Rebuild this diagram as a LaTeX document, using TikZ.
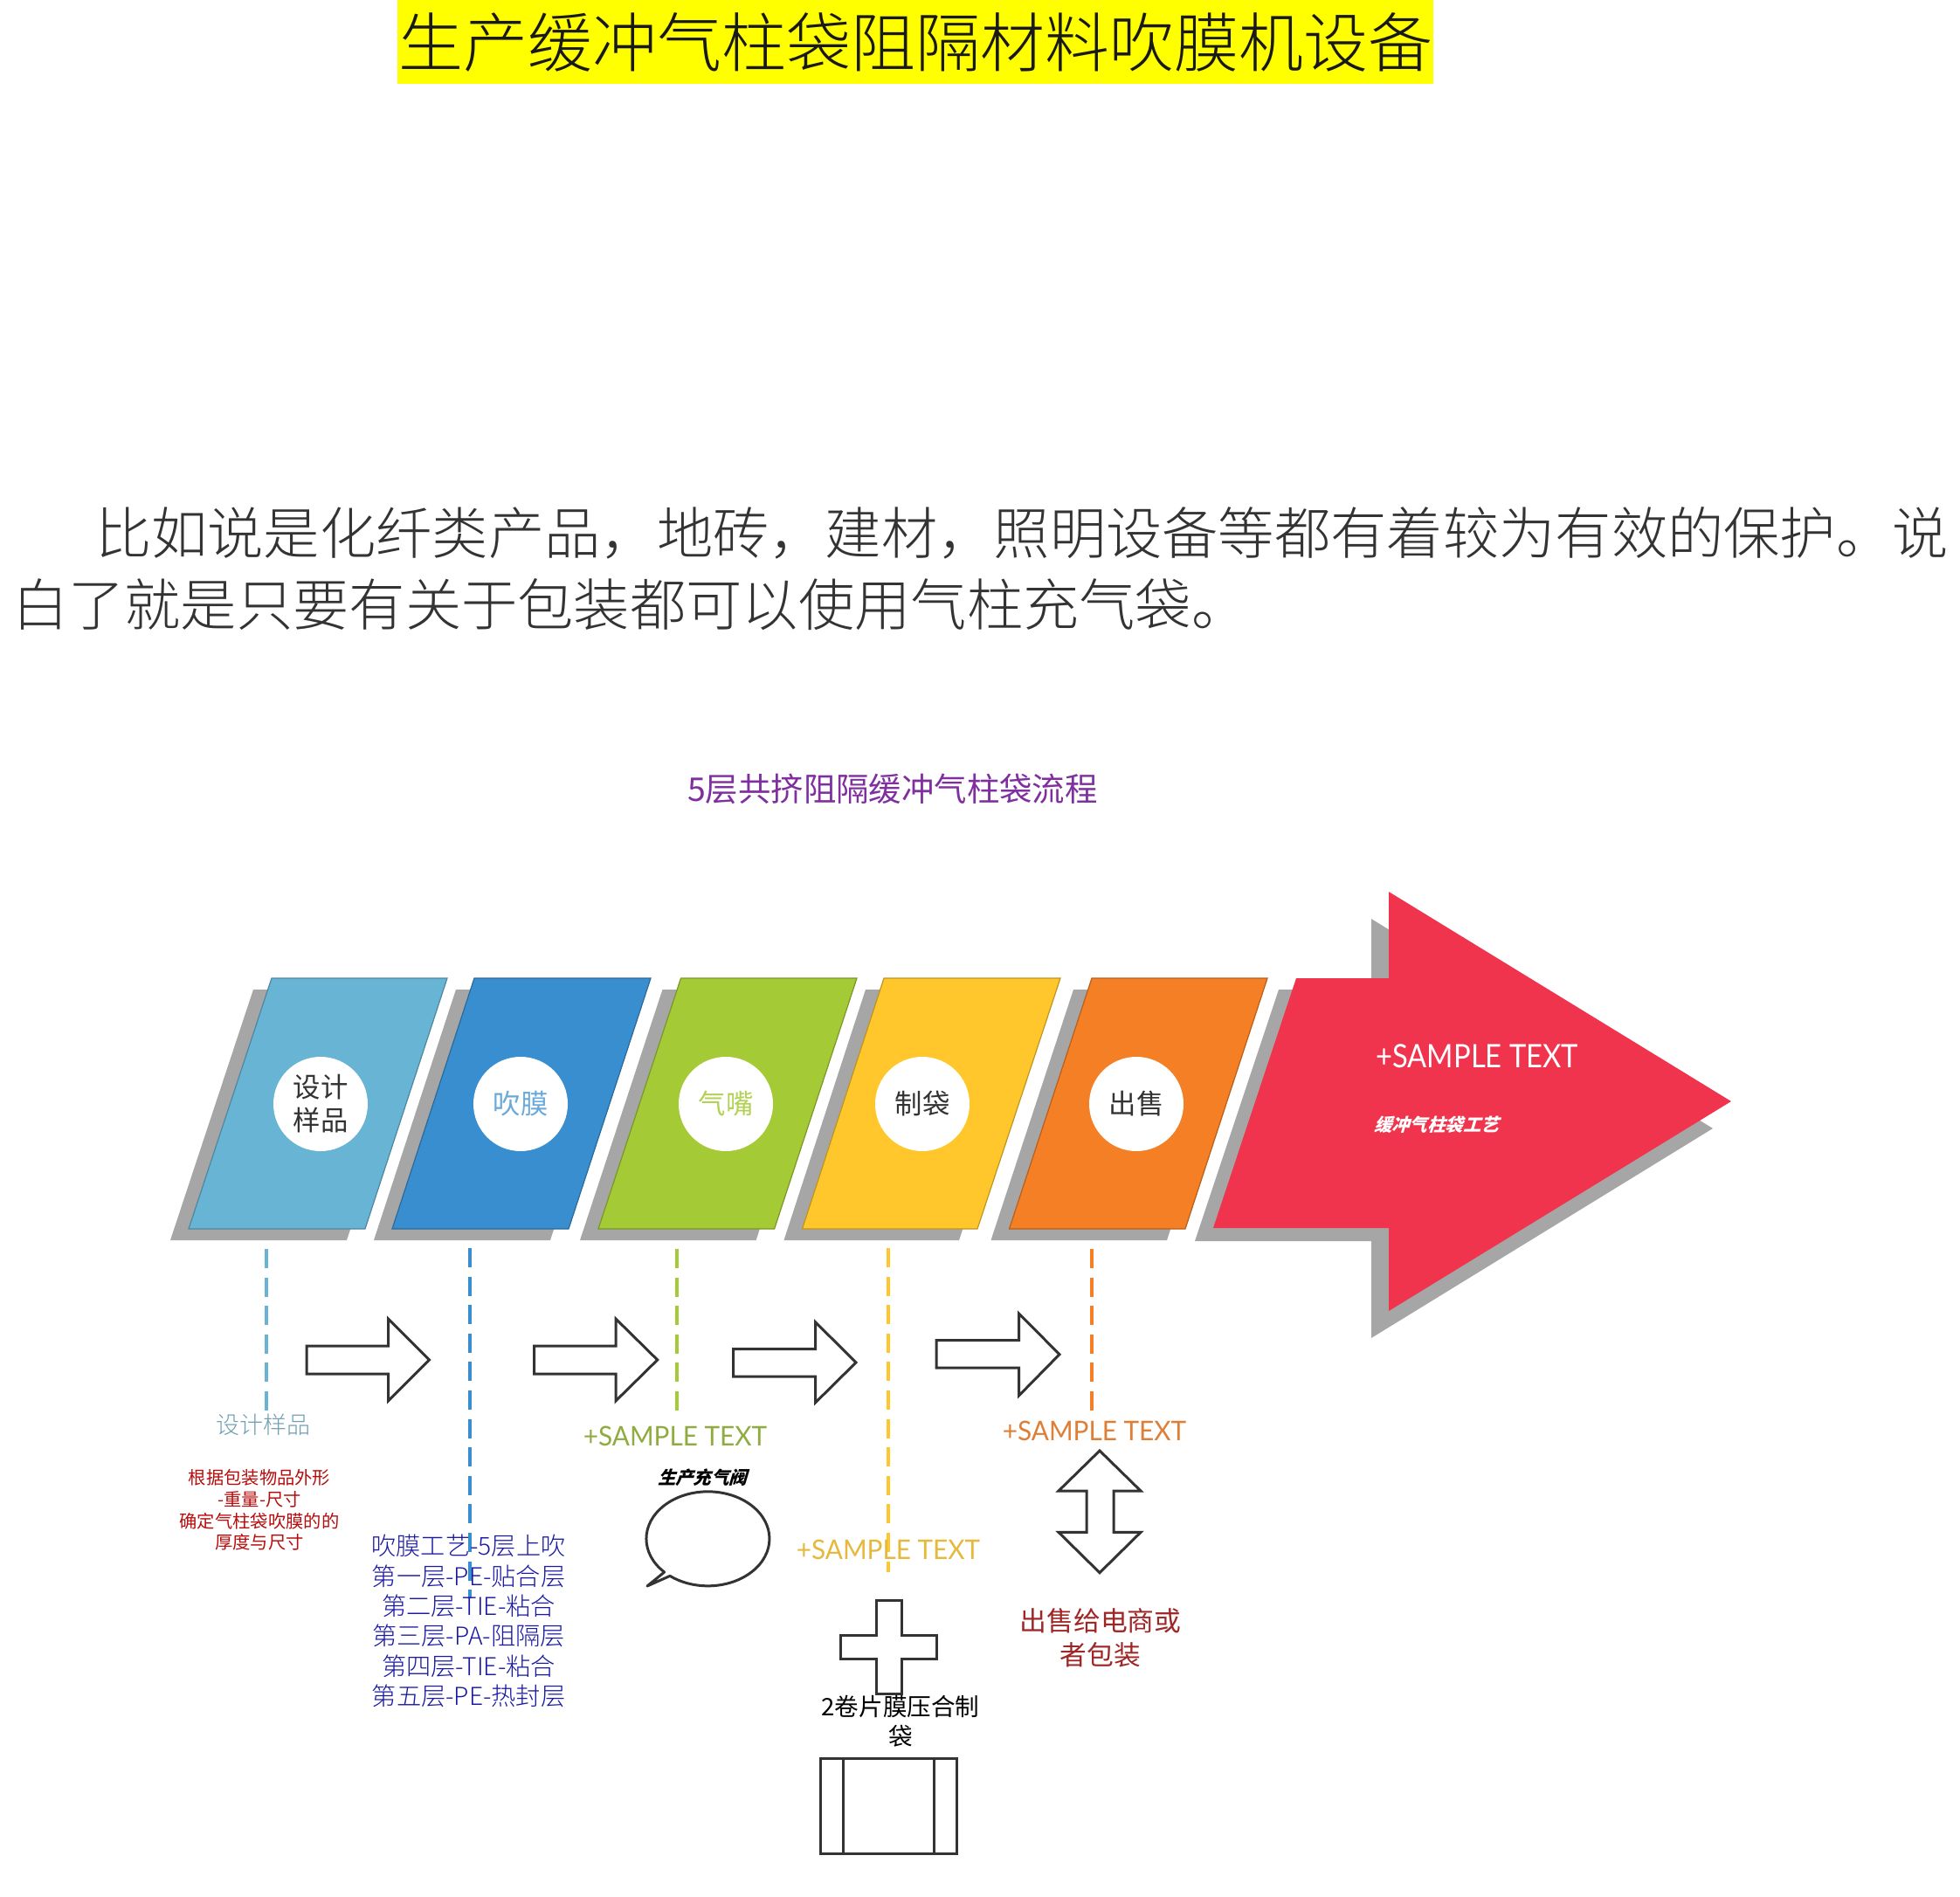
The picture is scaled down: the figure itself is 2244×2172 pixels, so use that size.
\documentclass[tikz,border=0pt]{standalone}
\usepackage{fontspec}
\usepackage{graphicx}
\setmainfont{Noto Sans CJK SC}
\newfontfamily\lite{Noto Sans CJK SC Light}
\newfontfamily\obl[FakeSlant=0.3]{Noto Sans CJK SC}
\newfontfamily\skt{Lato}
\newcommand{\fsz}[1]{\fontsize{#1}{#1}\selectfont}
\newcommand{\smp}[1]{\scalebox{#1}[1]{+SAMPLE TEXT}}
\definecolor{ylw}{RGB}{255,255,0}
\definecolor{shade}{HTML}{A6A6A6}
\definecolor{cA}{HTML}{68B4D4}
\definecolor{cB}{HTML}{388ECF}
\definecolor{cC}{HTML}{A4CA36}
\definecolor{cD}{HTML}{FFC72C}
\definecolor{cE}{HTML}{F57F25}
\definecolor{cR}{HTML}{F0344E}
\definecolor{ink}{HTML}{333333}
\definecolor{purp}{HTML}{7F2F9E}
\tikzset{
  txt/.style={inner sep=0pt,outer sep=0pt,text=ink,align=center},
  shadowshape/.style={fill=shade,draw=none},
  para/.style={draw=#1!75!black,fill=#1,line width=0.6pt},
  disc/.style={fill=white,draw=none,circle,minimum size=54pt,inner sep=0pt,font=\fsz{15.7},text=ink,align=center},
  dashline/.style={draw=#1,line width=2pt,dash pattern=on 11pt off 5.3pt},
  outline/.style={draw=ink,line width=1.5pt,fill=white,line join=miter},
  sample/.style={inner sep=0pt,text=#1},
}
\begin{document}
\begin{tikzpicture}[x=0.5pt,y=-0.5pt]
\useasboundingbox (0,0) rectangle (2244,2172);
% title
\fill[ylw] (455,0) rectangle (1641,96);
\node[txt,font=\lite\fsz{37},text=black!90] (title) at (1048,48) {生产缓冲气柱袋阻隔材料吹膜机设备};
% paragraph
\node[txt,anchor=west,font=\lite\fsz{32.15}] (p1) at (109,610) {比如说是化纤类产品，地砖，建材，照明设备等都有着较为有效的保护。说};
\node[txt,anchor=west,font=\lite\fsz{32.15}] (p2) at (14,692) {白了就是只要有关于包装都可以使用气柱充气袋。};
\node[txt,font=\fsz{18.7},text=purp] (head) at (1022,903) {5层共挤阻隔缓冲气柱袋流程};
% shadows
\foreach \a/\b/\c/\d in {311/512/418/216,543/745/651/449,779.5/981/886.6/685,1012/1214/1119/918.5,1250/1451/1357/1155.5}
  \path[shadowshape] (\a-21,1133) -- (\b-21,1133) -- (\c-21,1420) -- (\d-21,1420) -- cycle;
\path[shadowshape] (1464,1133) -- (1570,1133) -- (1570,1052) -- (1961,1292) -- (1570,1532) -- (1570,1421) -- (1368,1421) -- cycle;
% panels
\path[para=cA] (311,1120) -- (512,1120) -- (418,1407) -- (216,1407) -- cycle;
\path[para=cB] (543,1120) -- (745,1120) -- (651,1407) -- (449,1407) -- cycle;
\path[para=cC] (779.5,1120) -- (981,1120) -- (886.6,1407) -- (685,1407) -- cycle;
\path[para=cD] (1012,1120) -- (1214,1120) -- (1119,1407) -- (918.5,1407) -- cycle;
\path[para=cE] (1250,1120) -- (1451,1120) -- (1357,1407) -- (1155.5,1407) -- cycle;
\fill[cR] (1484,1120) -- (1590,1120) -- (1590,1021) -- (1982,1261) -- (1590,1501) -- (1590,1406) -- (1389,1406) -- cycle;
% discs
\node[disc,font=\fontsize{15.7}{19}\selectfont] (d1) at (367,1264) {设计\\样品};
\node[disc,text=cB!75!white] (d2) at (596,1264) {吹膜};
\node[disc,text=cC!85!white] (d3) at (831,1264) {气嘴};
\node[disc] (d4) at (1056,1264) {制袋};
\node[disc] (d5) at (1301,1264) {出售};
% arrow text
\node[sample=white,anchor=west,font=\skt\fsz{18.5}] (s0) at (1575,1209) {\smp{0.885}};
\node[txt,anchor=west,text=white,font=\obl\bfseries\fsz{10.2}] (s0b) at (1573,1288) {缓冲气柱袋工艺};
% dashed leaders
\coordinate (l1a) at (305,1430); \coordinate (l1b) at (305,1615);
\coordinate (l2a) at (538,1429); \coordinate (l2b) at (538,1830);
\coordinate (l3a) at (775,1430); \coordinate (l3b) at (775,1615);
\coordinate (l4a) at (1017,1429); \coordinate (l4b) at (1017,1800);
\coordinate (l5a) at (1250,1430); \coordinate (l5b) at (1250,1615);
\draw[dashline=cA] (l1a) -- (l1b);
\draw[dashline=cB] (l2a) -- (l2b);
\draw[dashline=cC] (l3a) -- (l3b);
\draw[dashline=cD] (l4a) -- (l4b);
\draw[dashline=cE] (l5a) -- (l5b);
% block arrows
\draw[outline] (351,1541) -- (444.6,1541) -- (444.6,1510) -- (491.5,1557) -- (444.6,1604) -- (444.6,1573) -- (351,1573) -- cycle;
\draw[outline] (611.6,1541) -- (705,1541) -- (705,1510) -- (752.7,1557) -- (705,1604) -- (705,1573) -- (611.6,1573) -- cycle;
\draw[outline] (839.7,1544.5) -- (933.5,1544.5) -- (933.5,1513.7) -- (980,1560) -- (933.5,1606) -- (933.5,1576) -- (839.7,1576) -- cycle;
\draw[outline] (1072,1534.7) -- (1166.5,1534.7) -- (1166.5,1504) -- (1213,1550.7) -- (1166.5,1598) -- (1166.5,1566) -- (1072,1566) -- cycle;
\draw[outline] (1259,1661) -- (1306,1707) -- (1275,1707) -- (1275,1754.4) -- (1306,1754.4) -- (1259,1800.7) -- (1212,1754.4) -- (1244,1754.4) -- (1244,1707) -- (1212,1707) -- cycle;
\draw[outline] (1003,1832) -- (1032,1832) -- (1032,1872) -- (1072,1872) -- (1072,1899.6) -- (1032,1899.6) -- (1032,1939.6) -- (1003,1939.6) -- (1003,1899.6) -- (962,1899.6) -- (962,1872) -- (1003,1872) -- cycle;
% speech bubble
\draw[outline,line join=round] (760.6,1800) arc[start angle=135,end angle=488,x radius=70.5,y radius=54] -- (741,1816) -- cycle;
% bag
\draw[outline] (939,2013) rectangle (1095,2122);
\coordinate (b1a) at (965.6,2013); \coordinate (b1b) at (965.6,2122);
\coordinate (b2a) at (1069,2013); \coordinate (b2b) at (1069,2122);
\draw[outline] (b1a) -- (b1b);
\draw[outline] (b2a) -- (b2b);
% texts
\node[sample={cC!80!black!90},font=\skt\fsz{15.5}] (s3) at (773,1644) {\smp{0.96}};
\node[sample={cE!80!gray},font=\skt\fsz{15.5}] (s5) at (1253,1638) {\smp{0.96}};
\node[sample={cD!80!gray},font=\skt\fsz{15.5}] (s4) at (1017,1774) {\smp{0.96}};
\node[txt,font=\lite\fsz{13.5},text=cA!60!gray] (t1) at (301,1631) {设计样品};
\node[txt,font=\fontsize{10.15}{12.4}\selectfont,text=red!70!black!95] (t2) at (297,1729) {根据包装物品外形\\-重量-尺寸\\确定气柱袋吹膜的的\\厚度与尺寸};
\node[txt,font=\lite\fontsize{14.1}{17.2}\selectfont,text=blue!60!black!90] (t3) at (536.5,1856) {吹膜工艺-5层上吹\\第一层-PE-贴合层\\第二层-TIE-粘合\\第三层-PA-阻隔层\\第四层-TIE-粘合\\第五层-PE-热封层};
\node[txt,font=\obl\bfseries\fsz{10.2},text=black] (t4) at (804,1692) {生产充气阀};
\node[txt,font=\fontsize{15.4}{19.3}\selectfont,text=red!55!black!85] (t5) at (1260,1875) {出售给电商或\\者包装};
\node[txt,font=\fontsize{13.8}{17}\selectfont,text=black] (t6) at (1031,1971) {2卷片膜压合制\\袋};
\end{tikzpicture}
\end{document}
